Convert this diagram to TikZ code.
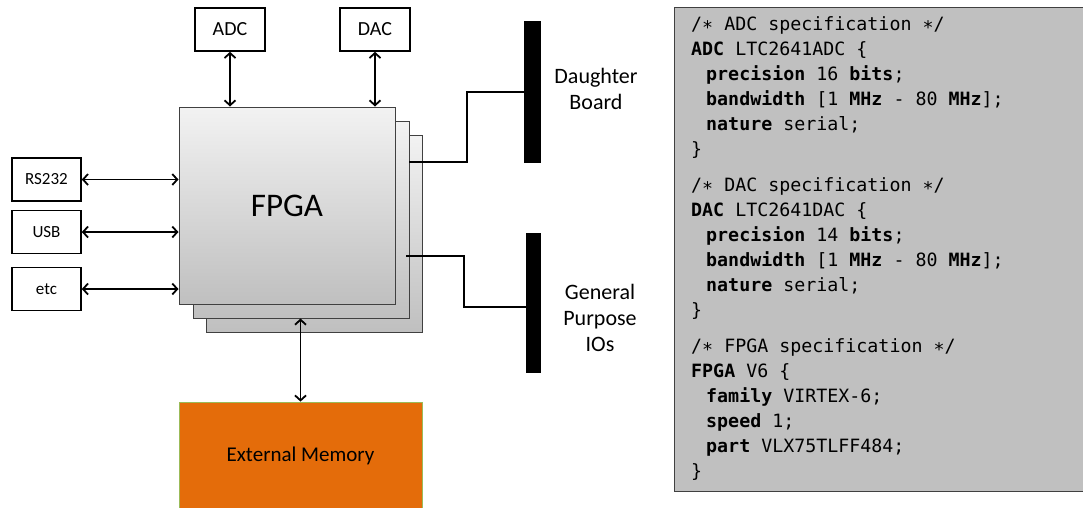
\documentclass[tikz,border=0pt]{standalone}
\usepackage{fontspec}
\setmainfont{Carlito}
\newfontfamily\codefont{DejaVu Sans Mono}
\usetikzlibrary{arrows.meta}
\definecolor{memorange}{HTML}{E46C0A}
\definecolor{memedge}{HTML}{9BBB59}
\definecolor{chipedge}{HTML}{404040}
\definecolor{codegray}{HTML}{C0C0C0}
\tikzset{
  port/.style={draw, line width=1.6pt, rectangle, minimum width=69pt, minimum height=43pt, inner sep=0pt, font=\fontsize{17}{20}\selectfont},
  conv/.style={port, minimum width=70pt, font=\fontsize{20}{24}\selectfont},
  layer/.style={draw=chipedge, line width=1pt, top color=gray!10, bottom color=gray!50, minimum width=216pt, minimum height=197pt, inner sep=0pt},
  bar/.style={fill=black, inner sep=0pt},
  link/.style={{Straight Barb[length=5pt,width=11pt]}-{Straight Barb[length=5pt,width=11pt]}, line width=1.8pt},
  wire/.style={line width=1.6pt},
  code/.style={anchor=base west, inner sep=0pt, font=\codefont\fontsize{18.3}{25}\selectfont}
}
\newcommand{\cstar}{\char"2217}
\newcommand{\kw}[1]{\textbf{#1}}

\begin{document}
\begin{tikzpicture}[x=1pt,y=-1pt]
  \useasboundingbox (0,0) rectangle (1083,507);

  %FPGA stack, back layers first
  \node[layer] (lay3) at (314.5,234) {};
  \node[layer] (lay2) at (301,219.5) {};
  \node[layer, font=\fontsize{33}{36}\selectfont] (fpga) at (287,205.5) {FPGA};

  %converters on top
  \node[conv] (adc) at (230,29.5) {ADC};
  \node[conv] (dac) at (375,29.5) {DAC};
  \draw[link] (adc.south) -- (adc.south |- fpga.north);
  \draw[link] (dac.south) -- (dac.south |- fpga.north);

  %ports on the left
  \node[port] (rs) at (46.5,179.5) {RS232};
  \node[port] (usb) at (46.5,232) {USB};
  \node[port] (etc) at (46.5,289) {etc};
  \draw[link] (rs.east) -- (rs.east -| fpga.west);
  \draw[link] (usb.east) -- (usb.east -| fpga.west);
  \draw[link] (etc.east) -- (etc.east -| fpga.west);

  %memory below
  \node[draw=memedge, line width=0.8pt, fill=memorange, minimum width=243pt, minimum height=108pt, font=\fontsize{21}{24}\selectfont] (mem) at (300.5,456) {External Memory};
  \draw[link] (mem.north |- lay2.south) -- (mem.north);

  %connectors on the right
  \node[bar, minimum width=17pt, minimum height=142pt] (dboard) at (532.5,92) {};
  \node[bar, minimum width=15pt, minimum height=140pt] (gpio) at (533.5,303) {};
  \node[font=\fontsize{22}{26}\selectfont, align=center] (dblab) at (596,89) {Daughter\\Board};
  \node[font=\fontsize{22}{26}\selectfont, align=center] (gplab) at (600,318) {General\\Purpose\\IOs};
  \coordinate (dbin) at (409,162);
  \coordinate (gpin) at (406,256);
  \draw[wire] (dbin) -- ++(58,0) |- (dboard.west);
  \draw[wire] (gpin) -- ++(58,0) |- ([yshift=-4pt]gpio.west);

  %specification listing
  \node[draw=chipedge, line width=1.2pt, fill=codegray, minimum width=420pt, minimum height=484pt, inner sep=0pt, anchor=north west] (spec) at (674,7) {};
  \node[code] (a1) at (691,30) {/\cstar{} ADC specification \cstar/};
  \node[code] (a2) at (691,55) {\kw{ADC} LTC2641ADC \{};
  \node[code] (a3) at (706,80) {\kw{precision} 16 \kw{bits};};
  \node[code] (a4) at (706,105) {\kw{bandwidth} [1 \kw{MHz} - 80 \kw{MHz}];};
  \node[code] (a5) at (706,130) {\kw{nature} serial;};
  \node[code] (a6) at (691,155) {\}};

  \node[code] (d1) at (691,191) {/\cstar{} DAC specification \cstar/};
  \node[code] (d2) at (691,216) {\kw{DAC} LTC2641DAC \{};
  \node[code] (d3) at (706,241) {\kw{precision} 14 \kw{bits};};
  \node[code] (d4) at (706,266) {\kw{bandwidth} [1 \kw{MHz} - 80 \kw{MHz}];};
  \node[code] (d5) at (706,291) {\kw{nature} serial;};
  \node[code] (d6) at (691,316) {\}};

  \node[code] (f1) at (691,352) {/\cstar{} FPGA specification \cstar/};
  \node[code] (f2) at (691,377) {\kw{FPGA} V6 \{};
  \node[code] (f3) at (706,402) {\kw{family} VIRTEX-6;};
  \node[code] (f4) at (706,427) {\kw{speed} 1;};
  \node[code] (f5) at (706,452) {\kw{part} VLX75TLFF484;};
  \node[code] (f6) at (691,477) {\}};
\end{tikzpicture}
\end{document}
